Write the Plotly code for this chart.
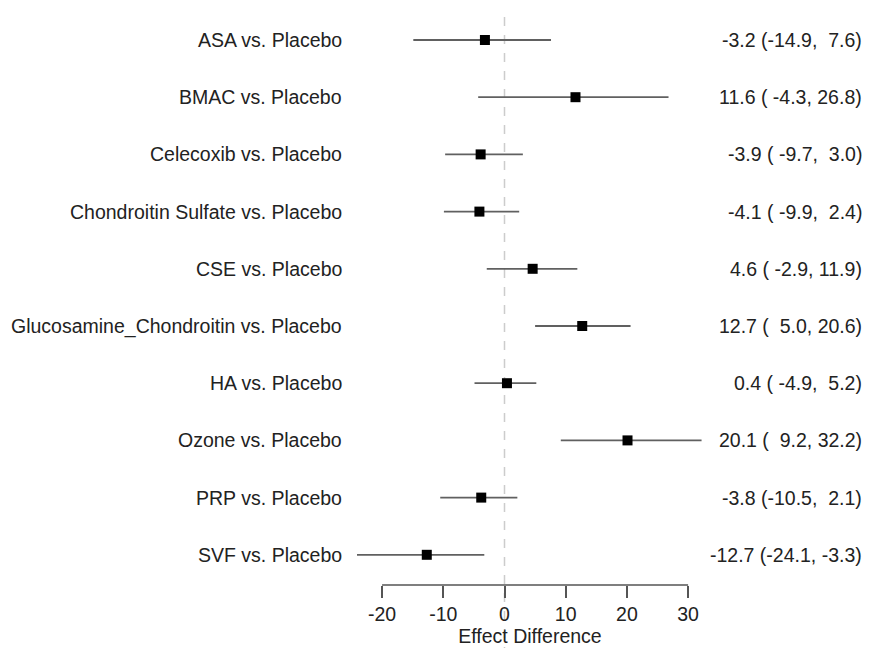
import plotly.graph_objects as go

comparisons = ["ASA vs. Placebo", "BMAC vs. Placebo", "Celecoxib vs. Placebo",
               "Chondroitin Sulfate vs. Placebo", "CSE vs. Placebo",
               "Glucosamine_Chondroitin vs. Placebo", "HA vs. Placebo",
               "Ozone vs. Placebo", "PRP vs. Placebo", "SVF vs. Placebo"]
estimate = [-3.2, 11.6, -3.9, -4.1, 4.6, 12.7, 0.4, 20.1, -3.8, -12.7]
lower = [-14.9, -4.3, -9.7, -9.9, -2.9, 5.0, -4.9, 9.2, -10.5, -24.1]
upper = [7.6, 26.8, 3.0, 2.4, 11.9, 20.6, 5.2, 32.2, 2.1, -3.3]
tick_vals = [-20, -10, 0, 10, 20, 30]

W, H = 874, 648
L, R, T, B = 342, 172, 0, 71
PW = W - L - R
FONT = "Liberation Sans, Arial, sans-serif"
FS = 19.5
X0PX, PXU = 496.5, 6.12   # figure pixel of x=0, pixels per unit
Y0PX, ROWPX = 32, 57.2    # figure pixel of first row, row spacing
AXPX = 577                # figure pixel of x-axis

rows = list(range(len(comparisons)))

fig = go.Figure()
fig.add_trace(go.Scatter(
    x=estimate, y=rows, mode="markers",
    marker=dict(symbol="square", size=10, color="black"),
    error_x=dict(type="data", symmetric=False,
                 array=[u - e for u, e in zip(upper, estimate)],
                 arrayminus=[e - l for e, l in zip(estimate, lower)],
                 width=0, thickness=1.8, color="#606060"),
    showlegend=False, hoverinfo="skip"))

for i, (c, e, l, u) in enumerate(zip(comparisons, estimate, lower, upper)):
    fig.add_annotation(x=(336 - L) / PW, xref="paper", y=i, yref="y", text=c,
                       showarrow=False, xanchor="right", yanchor="middle",
                       font=dict(family=FONT, size=FS, color="#222"))
    txt = f"{e:.1f} ({l:5.1f}, {u:4.1f})".replace(" ", "\u00a0")
    fig.add_annotation(x=(856 - L) / PW, xref="paper", y=i, yref="y", text=txt,
                       showarrow=False, xanchor="right", yanchor="middle",
                       font=dict(family=FONT, size=FS, color="#222"))

# dashed reference line at 0 spanning full height
fig.add_shape(type="line", x0=0, x1=0, xref="x", y0=-B / (H - T - B), y1=1, yref="paper",
              line=dict(color="#cccccc", width=1.5, dash="dash"), layer="below")
# axis line only across the tick range
fig.add_shape(type="line", x0=tick_vals[0], x1=tick_vals[-1], xref="x", y0=0, y1=0, yref="paper",
              line=dict(color="#555555", width=1.5))

fig.update_xaxes(range=[(L - X0PX) / PXU, (W - R - X0PX) / PXU],
                 tickvals=tick_vals, ticktext=[str(v) for v in tick_vals],
                 ticks="outside", ticklen=12, tickwidth=1.5, tickcolor="#555555",
                 showline=False, showgrid=False, zeroline=False,
                 tickfont=dict(family=FONT, size=FS, color="#222"),
                 title=dict(text="Effect Difference", standoff=0,
                            font=dict(family=FONT, size=FS, color="#222")))
fig.update_yaxes(range=[(AXPX - Y0PX) / ROWPX, -Y0PX / ROWPX], showticklabels=False,
                 showgrid=False, zeroline=False, showline=False, ticks="")

fig.update_layout(width=W, height=H, margin=dict(l=L, r=R, t=T, b=B),
                  plot_bgcolor="white", paper_bgcolor="white")

fig.write_html("out.html")
